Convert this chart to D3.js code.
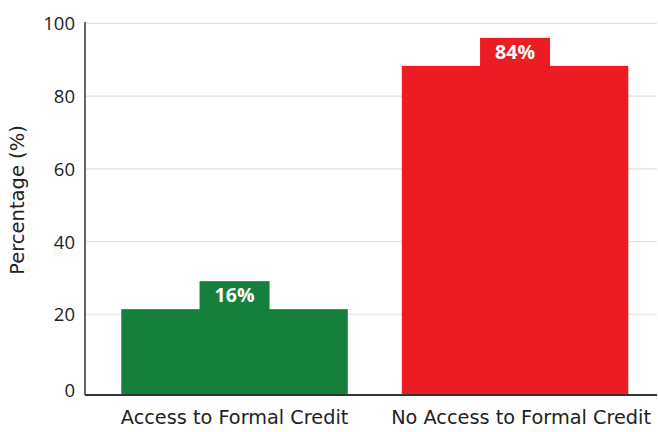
<!DOCTYPE html>
<html><head><meta charset="utf-8">
<script src="https://cdn.jsdelivr.net/npm/d3@7"></script>
<style>body{margin:0;background:#fff}svg{display:block}</style>
</head><body><svg id="c" width="658" height="432"></svg>
<script>
const categories = ["Access to Formal Credit", "No Access to Formal Credit"];
const barValues = [21.4, 88.3];
const valueLabels = ["16%", "84%"];
const barColors = ["#14803c", "#ed1c24"];
const yTicks = [0, 20, 40, 60, 80, 100];
const yTitle = "Percentage (%)";

const svg = d3.select("#c");
const numFont = "'Open Sans', sans-serif";
const textFont = "'DejaVu Sans', sans-serif";
const left = 85, right = 657, baseY = 395;
const y = d3.scaleLinear().domain([0, 100]).range([387, 23.3]);
const x = d3.scaleBand().domain(categories).range([121.3, 628.3]).paddingInner(0.1925);

// gridlines
svg.append("g").selectAll("line").data(yTicks.filter(d => d > 0)).join("line")
  .attr("x1", left).attr("x2", right).attr("y1", d => y(d)).attr("y2", d => y(d))
  .attr("stroke", "#e0e0e0").attr("stroke-width", 1.2);

// y axis
const yAxis = d3.axisLeft(y).tickValues(yTicks).tickSize(0).tickPadding(10);
const gy = svg.append("g").attr("transform", `translate(${left},0)`).call(yAxis);
gy.select(".domain").remove();
gy.selectAll("text").attr("font-family", numFont).attr("font-size", 18.5).attr("fill", "#222")
  .attr("dy", (d) => d === 0 ? "0.5em" : "0.35em");
svg.append("line").attr("x1", left).attr("x2", left).attr("y1", 22).attr("y2", baseY)
  .attr("stroke", "#666").attr("stroke-width", 2);

// bars
const bars = svg.append("g").selectAll("g").data(categories).join("g");
bars.append("rect")
  .attr("x", d => x(d)).attr("width", x.bandwidth())
  .attr("y", (d, i) => y(barValues[i])).attr("height", (d, i) => baseY - y(barValues[i]))
  .attr("fill", (d, i) => barColors[i]);
const boxW = 70, boxH = 28;
bars.append("rect")
  .attr("x", d => x(d) + x.bandwidth() / 2 - boxW / 2).attr("width", boxW)
  .attr("y", (d, i) => y(barValues[i]) - boxH).attr("height", boxH + 1)
  .attr("fill", (d, i) => barColors[i]);
bars.append("text")
  .attr("x", d => x(d) + x.bandwidth() / 2)
  .attr("y", (d, i) => y(barValues[i]) - boxH / 2)
  .attr("dy", "0.36em").attr("text-anchor", "middle")
  .attr("font-family", numFont).attr("font-weight", "bold").attr("font-size", 19.5)
  .attr("fill", "#fff").text((d, i) => valueLabels[i]);

// x axis
svg.append("line").attr("x1", left).attr("x2", right).attr("y1", baseY).attr("y2", baseY)
  .attr("stroke", "#333").attr("stroke-width", 2);
const xAxis = d3.axisBottom(x).tickSize(0).tickPadding(15.5);
const gx = svg.append("g").attr("transform", `translate(0,${baseY})`).call(xAxis);
gx.select(".domain").remove();
gx.selectAll("text").attr("font-family", textFont).attr("font-size", 19.3).attr("fill", "#222")
  .attr("dx", (d, i) => i === 1 ? 6 : 0);

// y title
svg.append("text").attr("transform", "translate(24,200) rotate(-90)")
  .attr("text-anchor", "middle").attr("font-family", textFont).attr("font-size", 19.5)
  .attr("fill", "#222").text(yTitle);
</script></body></html>
